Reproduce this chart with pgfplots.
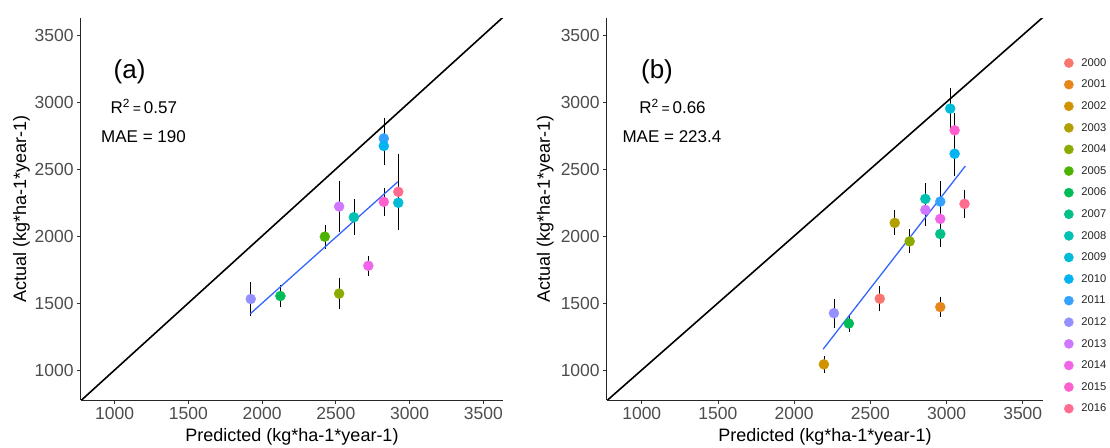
\documentclass[border=0pt]{standalone}
\usepackage{pgfplots}
\usepackage{pgfplotstable}
\pgfplotsset{compat=1.18}
\usepackage{fontspec}
\setmainfont{Liberation Sans}

\definecolor{c2000}{HTML}{F8766D}
\definecolor{c2001}{HTML}{E7861B}
\definecolor{c2002}{HTML}{D09400}
\definecolor{c2003}{HTML}{B2A000}
\definecolor{c2004}{HTML}{8CAB00}
\definecolor{c2005}{HTML}{4CB400}
\definecolor{c2006}{HTML}{00BC56}
\definecolor{c2007}{HTML}{00C088}
\definecolor{c2008}{HTML}{00C1B2}
\definecolor{c2009}{HTML}{00BCD6}
\definecolor{c2010}{HTML}{00B3F2}
\definecolor{c2011}{HTML}{35A2FF}
\definecolor{c2012}{HTML}{9590FF}
\definecolor{c2013}{HTML}{D176FE}
\definecolor{c2014}{HTML}{F166E8}
\definecolor{c2015}{HTML}{FE61CF}
\definecolor{c2016}{HTML}{FF6C90}
\definecolor{tickgray}{HTML}{4D4D4D}
\definecolor{smoothblue}{HTML}{3366FF}

\pgfplotstableread{
x y e yr
1923 1530 110 2012
2124 1552 72 2006
2425 1995 75 2005
2522 1570 105 2004
2522 2220 180 2013
2622 2140 120 2008
2720 1778 60 2014
2825 2728 140 2011
2825 2672 130 2010
2825 2255 90 2015
2923 2330 272 2016
2923 2248 180 2009
}\dataA

\pgfplotstableread{
x y e yr
2195 1042 48 2002
2261 1424 96 2012
2359 1347 50 2006
2562 1532 82 2000
2660 2098 80 2003
2758 1960 77 2004
2861 2277 105 2008
2861 2195 105 2013
2959 2257 140 2011
2959 2128 72 2014
2959 2015 85 2007
2959 1470 62 2001
3024 2951 140 2009
3053 2789 112 2015
3053 2614 150 2010
3118 2240 90 2016
}\dataB

\pgfplotsset{
  myaxis/.style={
    scale only axis, anchor=south west,
    xmin=770, xmax=3635, ymin=776, ymax=3625,
    axis x line*=bottom, axis y line*=left,
    axis line style={black!85, line width=0.8bp, -},
    tick align=outside, major tick length=3.5bp,
    tick style={black!80, line width=0.8bp},
    xtick={1000,1500,2000,2500,3000,3500},
    ytick={1000,1500,2000,2500,3000,3500},
    xticklabels={1000,1500,2000,2500,3000,3500},
    yticklabels={1000,1500,2000,2500,3000,3500},
    ticklabel style={font=\fontsize{17.5bp}{20bp}\selectfont, text=tickgray},
    every axis x label/.style={at={(axis description cs:0.5,-0.1092)}, anchor=base,
      font=\fontsize{18bp}{21bp}\selectfont},
    xlabel={Predicted (kg*ha-1*year-1)},
    ylabel={Actual (kg*ha-1*year-1)},
  },
  yearclasses/.style={
    scatter, only marks, mark=*, mark size=5bp,
    scatter src=explicit symbolic,
    scatter/classes={
      2000={c2000},2001={c2001},2002={c2002},2003={c2003},2004={c2004},
      2005={c2005},2006={c2006},2007={c2007},2008={c2008},2009={c2009},
      2010={c2010},2011={c2011},2012={c2012},2013={c2013},2014={c2014},
      2015={c2015},2016={c2016}},
  },
  errbars/.style={
    only marks, mark=none,
    error bars/.cd, y dir=both, y explicit,
    error bar style={black, line width=0.6bp},
    error mark options={black, line width=0.6bp, mark size=1.8bp},
  },
}

\begin{document}
\begin{tikzpicture}
\path[use as bounding box] (0,0) rectangle (1110bp,448bp);

% Panel (a)
\begin{axis}[myaxis, at={(80.7bp,48bp)}, width=422.6bp, height=381.7bp,
  every axis y label/.style={at={(axis description cs:-0.1294,0.5)}, rotate=90, anchor=base,
    font=\fontsize{18bp}{21bp}\selectfont}]
\addplot[black, line width=1.6bp, forget plot] coordinates {(700,700) (3700,3700)};
\addplot[forget plot, errbars] table[x=x, y=y, y error=e] {\dataA};
\addplot[forget plot, yearclasses] table[x=x, y=y, meta=yr] {\dataA};
\addplot[smoothblue, line width=1.3bp, forget plot] coordinates {(1920,1420) (2920,2405)};
\node[font=\fontsize{26bp}{30bp}\selectfont] at (axis cs:1101,3226) {(a)};
\node[font=\fontsize{17bp}{20bp}\selectfont] at (axis cs:1198,2965) {R\textsuperscript{2}\,{\fontsize{14bp}{16bp}\selectfont=}\,0.57};
\node[font=\fontsize{17bp}{20bp}\selectfont] at (axis cs:1196,2741) {MAE = 190};
\end{axis}

% Panel (b)
\begin{axis}[myaxis, at={(606.7bp,48bp)}, width=436.6bp, height=381.7bp,
  every axis y label/.style={at={(axis description cs:-0.1299,0.5)}, rotate=90, anchor=base,
    font=\fontsize{18bp}{21bp}\selectfont},
  legend cell align=left,
  legend style={at={(axis description cs:1.0475,0.9007)}, anchor=north west,
    draw=none, fill=none, inner sep=0pt, row sep=8.3bp,
    font=\fontsize{11.2bp}{13bp}\selectfont, text=black!85,
    /tikz/every odd column/.append style={column sep=6bp}},
  ]
\addplot[black, line width=1.6bp, forget plot] coordinates {(700,700) (3700,3700)};
\addplot[forget plot, errbars] table[x=x, y=y, y error=e] {\dataB};
\addplot[forget plot, yearclasses] table[x=x, y=y, meta=yr] {\dataB};
\addplot[smoothblue, line width=1.3bp, forget plot] coordinates {(2190,1155) (3123,2522)};
\node[font=\fontsize{26bp}{30bp}\selectfont] at (axis cs:1100,3226) {(b)};
\node[font=\fontsize{17bp}{20bp}\selectfont] at (axis cs:1202,2965) {R\textsuperscript{2}\,{\fontsize{14bp}{16bp}\selectfont=}\,0.66};
\node[font=\fontsize{17bp}{20bp}\selectfont] at (axis cs:1198,2741) {MAE = 223.4};
\addlegendimage{only marks, mark=*, mark size=4.6bp, c2000}\addlegendentry{2000}
\addlegendimage{only marks, mark=*, mark size=4.6bp, c2001}\addlegendentry{2001}
\addlegendimage{only marks, mark=*, mark size=4.6bp, c2002}\addlegendentry{2002}
\addlegendimage{only marks, mark=*, mark size=4.6bp, c2003}\addlegendentry{2003}
\addlegendimage{only marks, mark=*, mark size=4.6bp, c2004}\addlegendentry{2004}
\addlegendimage{only marks, mark=*, mark size=4.6bp, c2005}\addlegendentry{2005}
\addlegendimage{only marks, mark=*, mark size=4.6bp, c2006}\addlegendentry{2006}
\addlegendimage{only marks, mark=*, mark size=4.6bp, c2007}\addlegendentry{2007}
\addlegendimage{only marks, mark=*, mark size=4.6bp, c2008}\addlegendentry{2008}
\addlegendimage{only marks, mark=*, mark size=4.6bp, c2009}\addlegendentry{2009}
\addlegendimage{only marks, mark=*, mark size=4.6bp, c2010}\addlegendentry{2010}
\addlegendimage{only marks, mark=*, mark size=4.6bp, c2011}\addlegendentry{2011}
\addlegendimage{only marks, mark=*, mark size=4.6bp, c2012}\addlegendentry{2012}
\addlegendimage{only marks, mark=*, mark size=4.6bp, c2013}\addlegendentry{2013}
\addlegendimage{only marks, mark=*, mark size=4.6bp, c2014}\addlegendentry{2014}
\addlegendimage{only marks, mark=*, mark size=4.6bp, c2015}\addlegendentry{2015}
\addlegendimage{only marks, mark=*, mark size=4.6bp, c2016}\addlegendentry{2016}
\end{axis}
\end{tikzpicture}
\end{document}
